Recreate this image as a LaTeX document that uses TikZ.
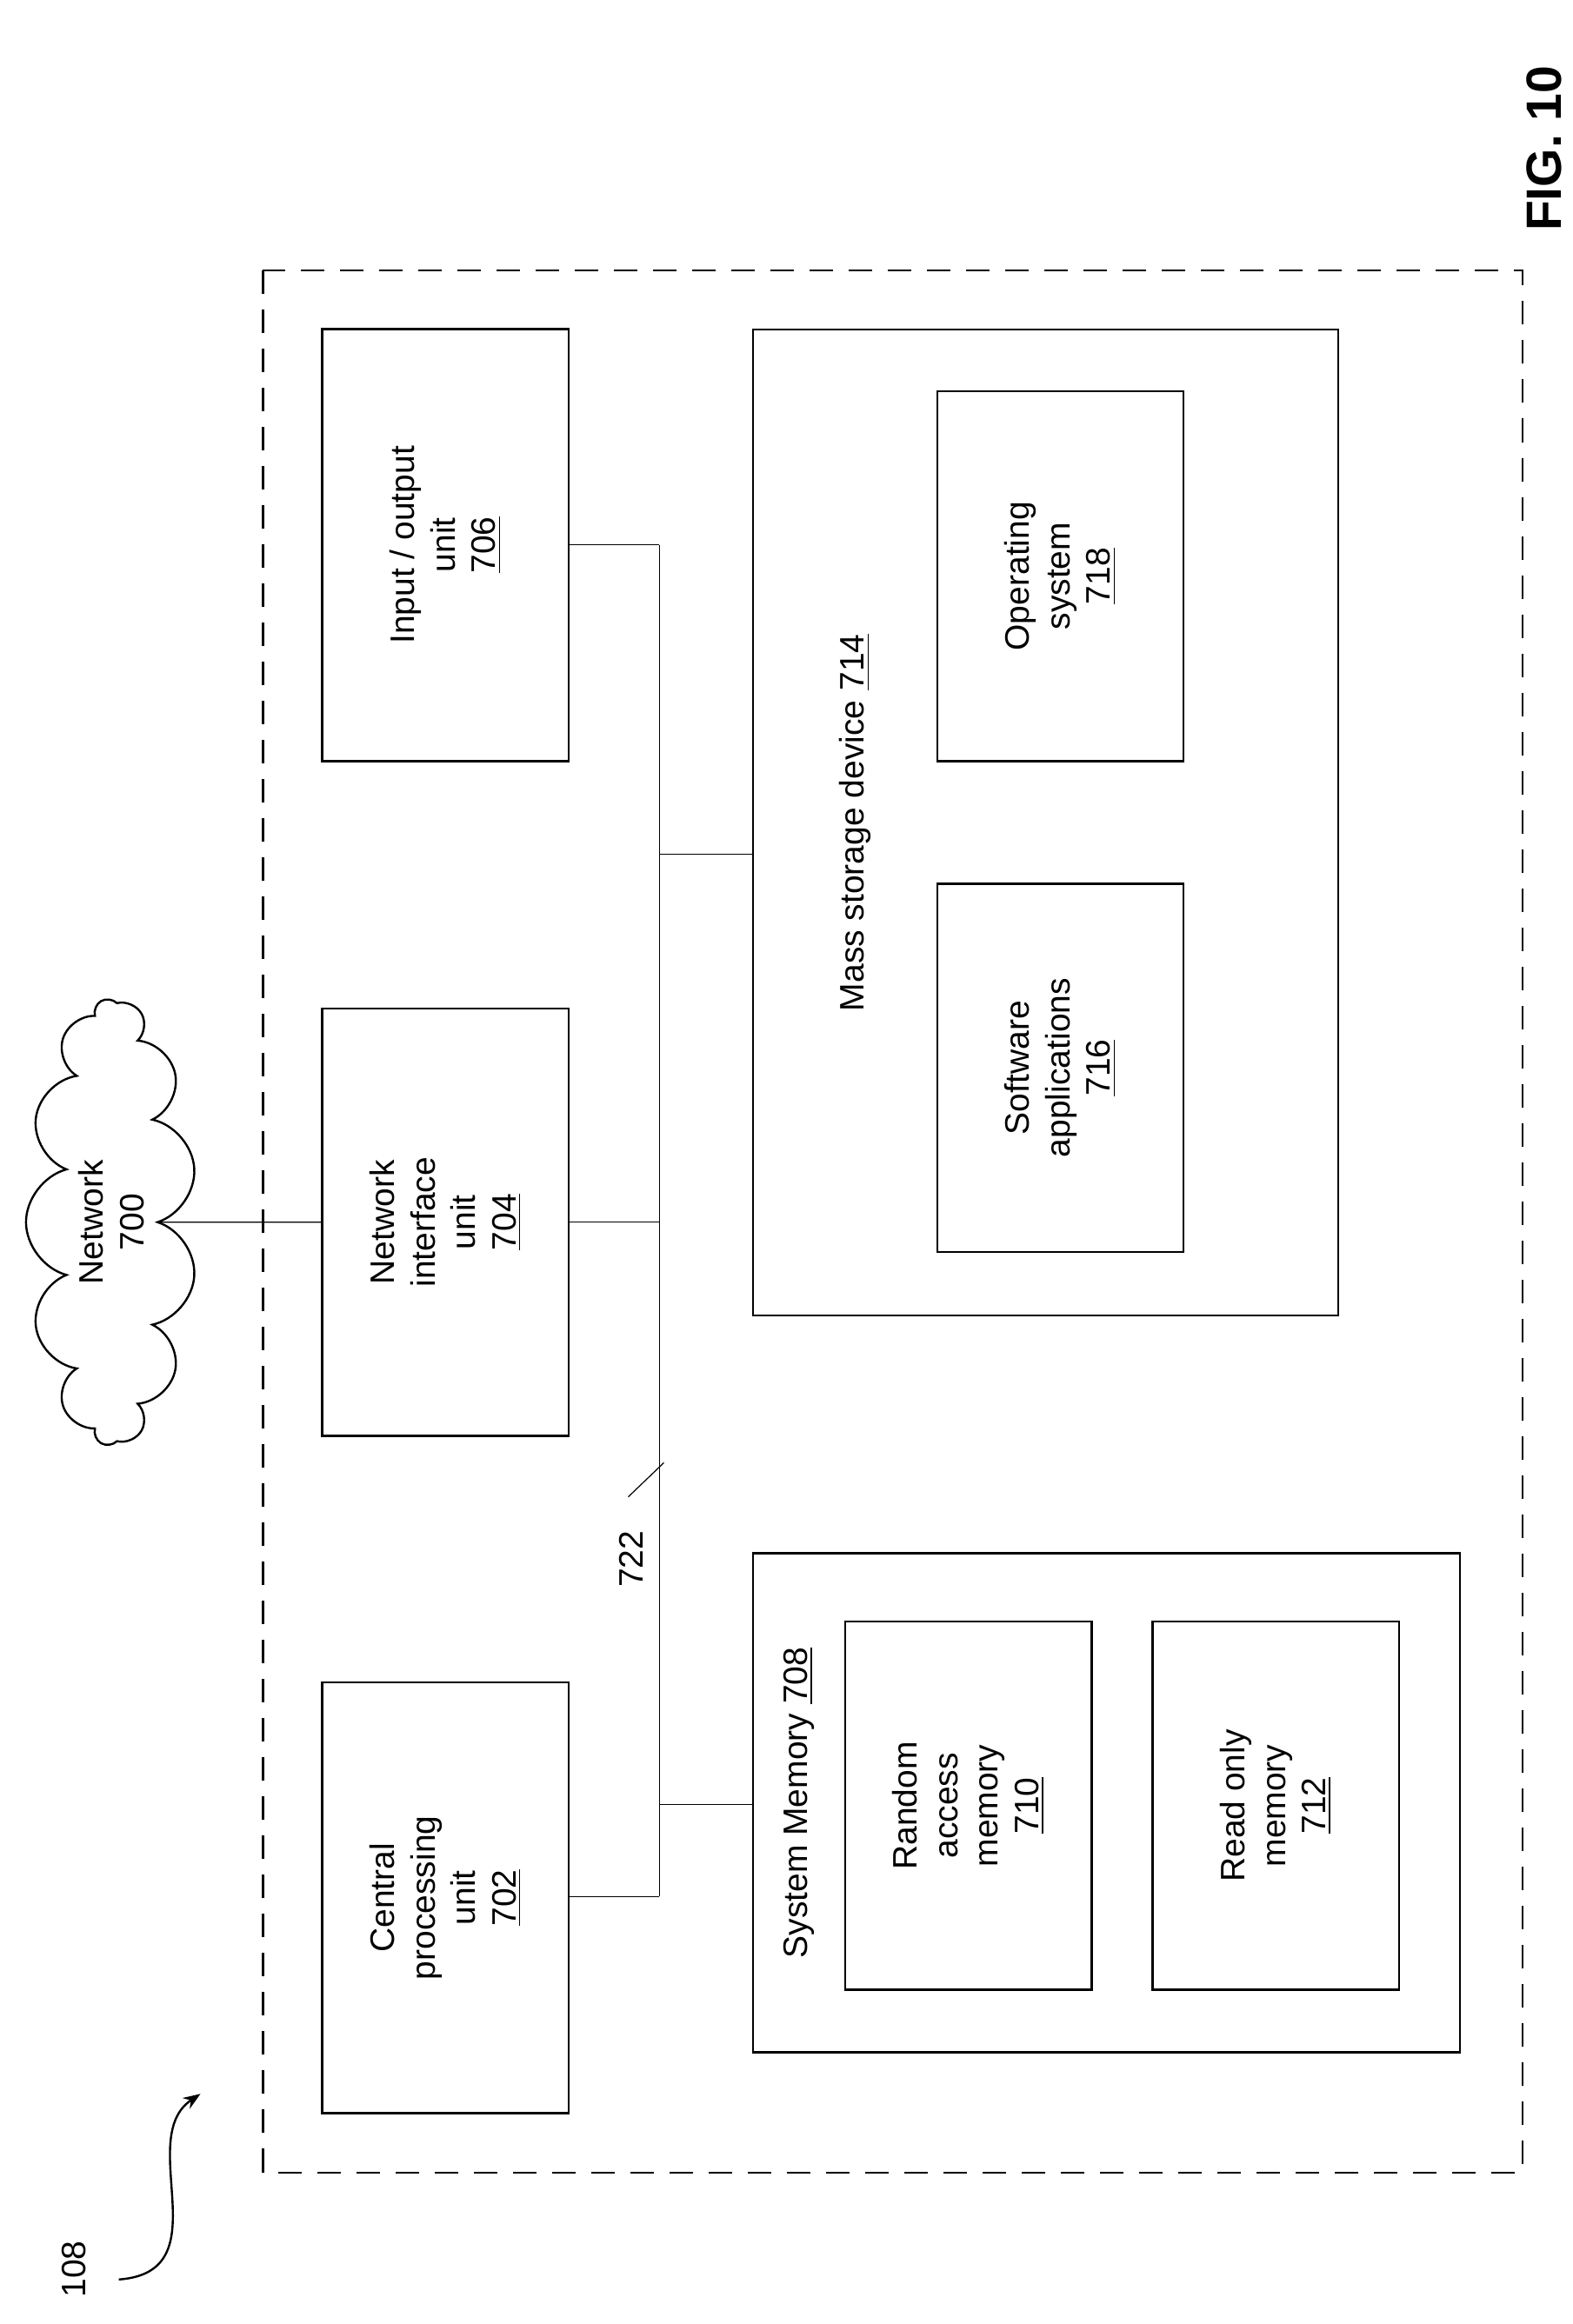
\documentclass[tikz,border=0pt]{standalone}
\usepackage{fontspec}
\setmainfont{Liberation Sans}
\usetikzlibrary{arrows.meta, shapes.symbols}

\begin{document}
\begin{tikzpicture}[x=0.02cm, y=-0.02cm, >=Stealth,
			font=\fontsize{13}{15.5}\selectfont,
			box/.style={draw, thick, rotate=90, align=center, inner sep=0pt},
			lbl/.style={rotate=90, align=center},
			wire/.style={thin}]
			\useasboundingbox (0,0) rectangle (1059,1565);
			
			% Outer frame
			\draw[thick, dash pattern=on 9pt off 6pt] (177,182) rectangle (1025,1463);
			
			% Units in the left column
			\node[box, minimum width=5.8cm, minimum height=3.32cm] (cpu) at (300,1278) {Central\\processing\\unit\\\underline{702}};
			\node[box, minimum width=5.76cm, minimum height=3.32cm] (nic) at (300,823) {Network\\interface\\unit\\\underline{704}};
			\node[box, minimum width=5.82cm, minimum height=3.32cm] (io) at (300,367) {Input / output\\unit\\\underline{706}};
			
			% Mass storage
			\node[box, minimum width=13.28cm, minimum height=7.88cm] (ms) at (704,554) {};
			\node[lbl] (mslbl) at (576,554) {Mass storage device \underline{714}};
			\node[box, minimum width=4.98cm, minimum height=3.32cm] (os) at (714,388) {Operating\\system\\\underline{718}};
			\node[box, minimum width=4.96cm, minimum height=3.32cm] (sw) at (714,719) {Software\\applications\\\underline{716}};
			
			% System memory
			\node[box, minimum width=6.72cm, minimum height=9.52cm] (sm) at (745,1214) {};
			\node[lbl] (smlbl) at (538,1214) {System Memory \underline{708}};
			\node[box, minimum width=4.96cm, minimum height=3.32cm] (ram) at (652,1216) {Random\\access\\memory\\\underline{710}};
			\node[box, minimum width=4.96cm, minimum height=3.32cm] (rom) at (859,1216) {Read only\\memory\\\underline{712}};
			
			% Network cloud
			\node[cloud, draw, thick, rotate=90, cloud puffs=13, aspect=2.5,
				minimum width=6cm, minimum height=2.3cm, align=center] (net) at (75,823) {Network\\700};
			
			% Bus
			\coordinate (btop) at (444,367);
			\coordinate (bms) at (444,575);
			\coordinate (bnic) at (444,823);
			\coordinate (bsm) at (444,1215);
			\coordinate (bcpu) at (444,1277);
			\draw[wire] (btop) -- (bcpu);
			\draw[wire] (io.south) -- (btop);
			\draw[wire] (bms) -- (bms -| ms.north);
			\draw[wire] (nic.south) -- (bnic);
			\draw[wire] (bsm) -- (bsm -| sm.north);
			\draw[wire] (cpu.south |- bcpu) -- (bcpu);
			\draw[wire] (net.south) -- (nic.north);
			
			% Bus label
			\coordinate (s1) at (423,1008);
			\coordinate (s2) at (447,985);
			\draw[wire] (s1) -- (s2);
			\node[lbl] (buslbl) at (425,1050) {722};
			
			% Reference numeral and figure title
			\node[lbl] (ref) at (50,1528) {108};
			\coordinate (a1) at (80,1535);
			\coordinate (a2) at (135,1410);
			\draw[thick, ->] (a1) .. controls (150,1530) and (90,1440) .. (a2);
			\node[lbl, font=\fontsize{19}{22}\selectfont\bfseries] (fig) at (1040,100) {FIG. 10};
		\end{tikzpicture}
\end{document}
